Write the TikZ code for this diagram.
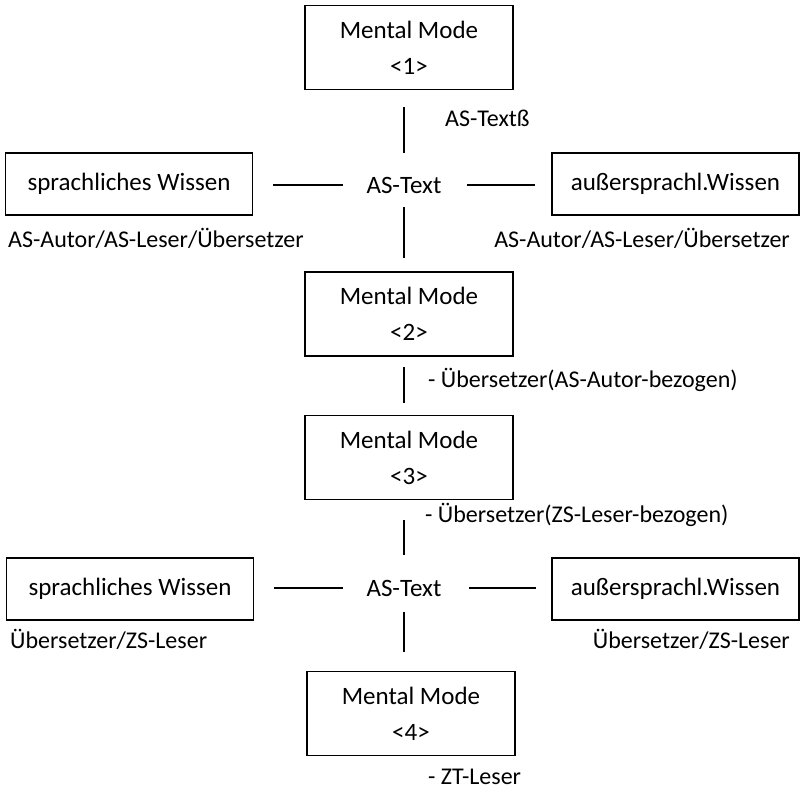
\documentclass[tikz,border=0pt]{standalone}
\usepackage{fontspec}
\setmainfont{Carlito}
\begin{document}
\begin{tikzpicture}[x=1pt,y=1pt,
  every node/.style={font=\fontsize{24}{29}\selectfont},
  box/.style={draw,line width=1.7pt,inner sep=0pt,align=center},
  mm/.style={box,minimum width=208pt,minimum height=84pt,font=\fontsize{25}{30}\selectfont},
  wb/.style={box,minimum width=247pt,minimum height=62pt,font=\fontsize{25}{30}\selectfont},
  ast/.style={inner sep=0pt,minimum width=76pt,minimum height=16pt,font=\fontsize{25}{30}\selectfont},
  lbl/.style={inner sep=0pt},
  con/.style={line width=1.8pt}]
\useasboundingbox (0,0) rectangle (800,-791);
% mental model boxes
\node[mm] (m1) at (409,-47.5) {Mental Mode\\[6pt]<1>};
\node[mm] (m2) at (409,-314) {Mental Mode\\[6pt]<2>};
\node[mm] (m3) at (409,-457.5) {Mental Mode\\[6pt]<3>};
\node[mm] (m4) at (411,-713.5) {Mental Mode\\[6pt]<4>};
% rows
\node[wb] (sw1) at (129,-184) {sprachliches Wissen};
\node[wb] (aw1) at (675.5,-184) {außersprachl.Wissen};
\node[ast] (t1) at (404,-185) {AS-Text};
\node[wb] (sw2) at (130,-589) {sprachliches Wissen};
\node[wb] (aw2) at (675.5,-589) {außersprachl.Wissen};
\node[ast] (t2) at (404,-588) {AS-Text};
% labels
\node[lbl,anchor=west] (l1) at (445,-118) {AS-Textß};
\node[lbl,anchor=west] (l2) at (8,-238) {AS-Autor/AS-Leser/Übersetzer};
\node[lbl,anchor=east] (l3) at (790,-238) {AS-Autor/AS-Leser/Übersetzer};
\node[lbl,anchor=west] (l4) at (428,-380) {- Übersetzer(AS-Autor-bezogen)};
\node[lbl,anchor=west] (l5) at (425,-515) {- Übersetzer(ZS-Leser-bezogen)};
\node[lbl,anchor=west] (l6) at (10,-639) {Übersetzer/ZS-Leser};
\node[lbl,anchor=east] (l7) at (790,-639) {Übersetzer/ZS-Leser};
\node[lbl,anchor=west] (l8) at (428,-777) {- ZT-Leser};
% connectors
\draw[con,shorten <=17pt,shorten >=24pt] (t1|-m1.south) -- (t1.north);
\draw[con,shorten <=14pt,shorten >=13pt] (t1.south) -- (t1|-m2.north);
\draw[con,shorten <=20pt,shorten >=23pt] (sw1.east|-t1) -- (t1.west);
\draw[con,shorten <=25pt,shorten >=16pt] (t1.east) -- (aw1.west|-t1);
\draw[con,shorten <=10pt,shorten >=12pt] (t1|-m2.south) -- (t1|-m3.north);
\draw[con,shorten <=20pt,shorten >=25pt] (t2|-m3.south) -- (t2.north);
\draw[con,shorten <=20pt,shorten >=23pt] (sw2.east|-t2) -- (t2.west);
\draw[con,shorten <=27pt,shorten >=15pt] (t2.east) -- (aw2.west|-t2);
\draw[con,shorten <=16pt,shorten >=19pt] (t2.south) -- (t2|-m4.north);
\end{tikzpicture}
\end{document}
